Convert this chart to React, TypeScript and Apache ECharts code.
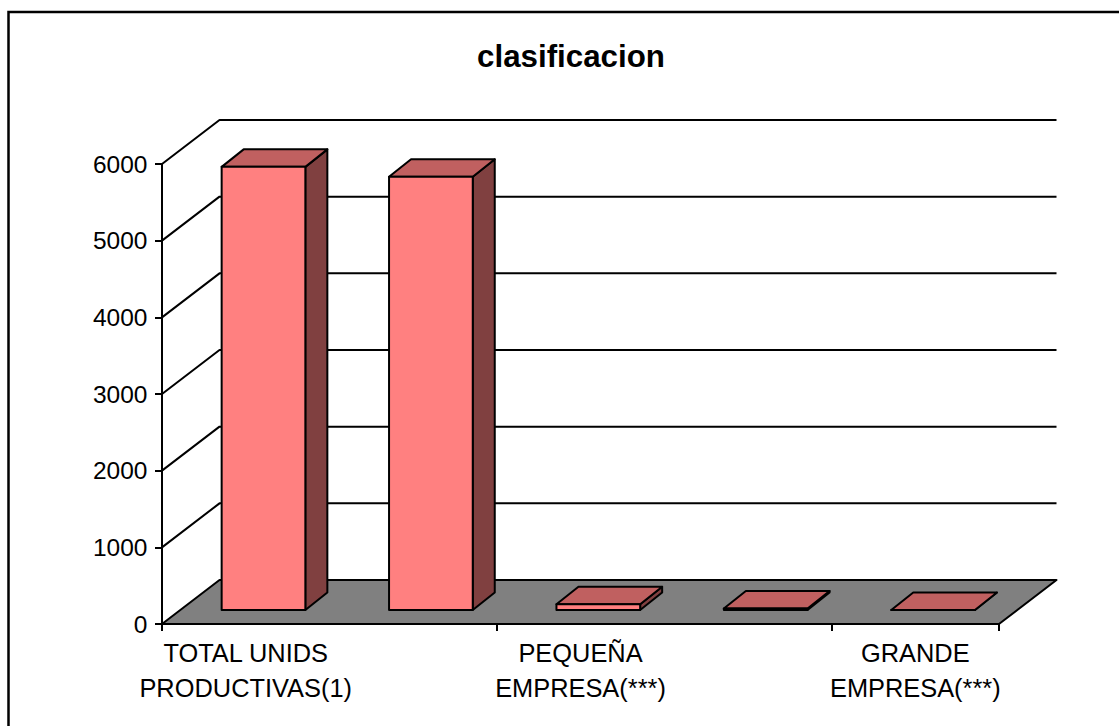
import React, { useEffect, useRef } from "react";
import * as echarts from "echarts";

const titleText = "clasificacion";
const categories = [
  "TOTAL UNIDS\nPRODUCTIVAS(1)",
  "MICRO\nEMPRESA(***)",
  "PEQUEÑA\nEMPRESA(***)",
  "MEDIANA\nEMPRESA(***)",
  "GRANDE\nEMPRESA(***)",
];
const values = [5780, 5650, 75, 20, 0];
const wallTicks = [0, 1000, 2000, 3000, 4000, 5000, 6000];

const FONT = '"Liberation Sans", Arial, sans-serif';
const WALL_DX = 57.5;
const WALL_DY = -44;
const BAR_SHIFT_X = 17.8;
const BAR_SHIFT_Y = -14;
const BAR_DX = 22;
const BAR_DY = -17.5;
const EDGE = { stroke: "#000", lineWidth: 2, lineJoin: "round" as const };

export default function App() {
  const ref = useRef<HTMLDivElement>(null);

  useEffect(() => {
    document.body.style.margin = "0";
    document.body.style.background = "#fff";
    const chart = echarts.init(ref.current!, undefined, { renderer: "svg" });
    const last = categories.length - 1;

    chart.setOption({
      animation: false,
      backgroundColor: "#fff",
      title: {
        text: titleText,
        left: 566,
        top: 36,
        textAlign: "center",
        textStyle: { fontFamily: FONT, fontSize: 31.3, fontWeight: "bold", color: "#000" },
      },
      graphic: [
        {
          type: "polyline",
          silent: true,
          shape: { points: [[8.5, 726], [8.5, 12], [1119, 12]] },
          style: { stroke: "#000", lineWidth: 2.5, fill: "none" },
        },
      ],
      grid: { left: 162, top: 164, width: 837, height: 460 },
      xAxis: {
        type: "category",
        data: categories,
        axisLine: { show: true, lineStyle: { color: "#000", width: 2 } },
        axisTick: { show: true, length: 7, lineStyle: { color: "#000", width: 2 } },
        axisLabel: {
          interval: 1,
          margin: 11,
          color: "#000",
          fontFamily: FONT,
          fontSize: 25.4,
          lineHeight: 35,
          align: "center",
        },
      },
      yAxis: {
        type: "value",
        min: 0,
        max: 6000,
        interval: 1000,
        axisLine: { show: true, lineStyle: { color: "#000", width: 2 } },
        axisTick: { show: true, length: 7, lineStyle: { color: "#000", width: 2 } },
        axisLabel: {
          margin: 14.5,
          color: "#000",
          fontFamily: FONT,
          fontSize: 24.5,
          formatter: (v: number) => String(v),
        },
        splitLine: { show: false },
      },
      series: [
        {
          type: "custom",
          name: "walls",
          coordinateSystem: "cartesian2d",
          clip: false,
          z: 1,
          data: wallTicks.map((t) => [0, t]),
          encode: { x: 0, y: 1 },
          renderItem: (_p: any, api: any) => {
            const t = api.value(1);
            const band = api.size([1, 0])[0];
            const left = api.coord([0, t])[0] - band / 2;
            const right = api.coord([last, t])[0] + band / 2;
            const y = api.coord([0, t])[1];
            if (t === 0) {
              return {
                type: "polygon",
                shape: {
                  points: [
                    [left, y],
                    [left + WALL_DX, y + WALL_DY],
                    [right + WALL_DX, y + WALL_DY],
                    [right, y],
                  ],
                },
                style: { fill: "#808080", ...EDGE },
              };
            }
            return {
              type: "polyline",
              shape: {
                points: [
                  [left, y],
                  [left + WALL_DX, y + WALL_DY],
                  [right + WALL_DX, y + WALL_DY],
                ],
              },
              style: { fill: "none", ...EDGE },
            };
          },
        },
        {
          type: "custom",
          name: "clasificacion",
          coordinateSystem: "cartesian2d",
          clip: false,
          z: 2,
          data: values.map((v, i) => [i, v]),
          encode: { x: 0, y: 1 },
          renderItem: (_p: any, api: any) => {
            const i = api.value(0);
            const v = api.value(1);
            const band = api.size([1, 0])[0];
            const w = band / 2;
            const top = api.coord([i, v]);
            const base = api.coord([i, 0]);
            const x0 = top[0] - w / 2 + BAR_SHIFT_X;
            const x1 = x0 + w;
            const yT = top[1] + BAR_SHIFT_Y;
            const yB = base[1] + BAR_SHIFT_Y;
            return {
              type: "group",
              children: [
                {
                  type: "polygon",
                  shape: {
                    points: [
                      [x1, yT],
                      [x1 + BAR_DX, yT + BAR_DY],
                      [x1 + BAR_DX, yB + BAR_DY],
                      [x1, yB],
                    ],
                  },
                  style: { fill: "#804040", ...EDGE },
                },
                {
                  type: "polygon",
                  shape: {
                    points: [
                      [x0, yT],
                      [x0 + BAR_DX, yT + BAR_DY],
                      [x1 + BAR_DX, yT + BAR_DY],
                      [x1, yT],
                    ],
                  },
                  style: { fill: "#C06060", ...EDGE },
                },
                {
                  type: "rect",
                  shape: { x: x0, y: yT, width: w, height: yB - yT },
                  style: { fill: "#FF8080", ...EDGE },
                },
              ],
            };
          },
        },
      ],
    });

    return () => chart.dispose();
  }, []);

  return <div ref={ref} style={{ position: "absolute", left: 0, top: 0, width: 1119, height: 726 }} />;
}
